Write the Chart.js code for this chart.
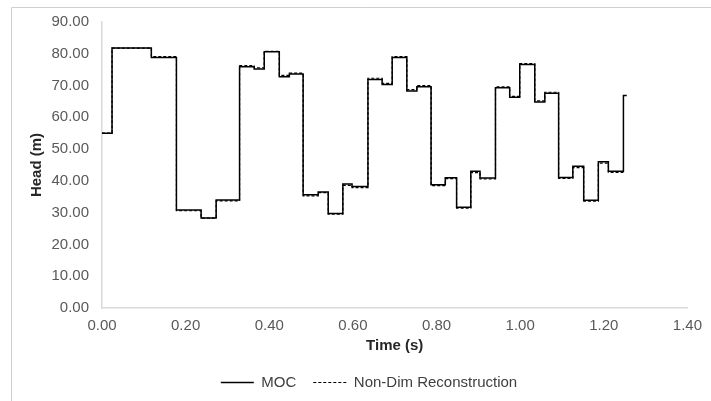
<!DOCTYPE html>
<html>
<head>
<meta charset="utf-8">
<script src="https://cdn.jsdelivr.net/npm/chart.js@4/dist/chart.umd.min.js"></script>
<style>
  html, body { margin: 0; padding: 0; background: #fff; }
  #wrap { width: 711px; height: 401px; position: relative; }
</style>
</head>
<body>
<div id="wrap"><canvas id="headChart"></canvas></div>
<script>
// times (s) at which the head changes, and the head (m) from that time on
const stepTimes = [0.000, 0.024, 0.118, 0.178, 0.237, 0.273, 0.329, 0.364, 0.388, 0.424,
                   0.448, 0.481, 0.517, 0.541, 0.576, 0.598, 0.636, 0.670, 0.694, 0.729,
                   0.753, 0.787, 0.821, 0.848, 0.882, 0.904, 0.941, 0.975, 0.999, 1.035,
                   1.059, 1.092, 1.126, 1.152, 1.187, 1.211, 1.247, 1.255];

const mocHead = [55.0, 81.8, 78.8, 30.8, 28.3, 34.0, 75.9, 75.2, 80.6, 72.8,
                 73.6, 35.6, 36.5, 29.7, 39.0, 38.2, 71.9, 70.3, 78.8, 68.3,
                 69.6, 38.8, 41.0, 31.7, 43.0, 40.9, 69.3, 66.3, 76.6, 64.8,
                 67.6, 41.1, 44.6, 33.9, 46.0, 43.0, 66.9, 66.9];

// reconstruction stops before the last jump
const reconHead = [55.0, 81.8, 79.1, 30.6, 28.3, 33.7, 76.3, 75.6, 80.8, 73.2,
                   73.9, 35.3, 36.3, 29.5, 38.6, 37.9, 72.3, 70.7, 79.1, 68.7,
                   70.0, 38.5, 40.7, 31.4, 42.6, 40.6, 69.6, 66.6, 76.9, 65.2,
                   67.9, 40.8, 44.2, 33.6, 45.6, 42.7, 42.7];

const seriesNames = ['MOC', 'Non-Dim Reconstruction'];

const xTickRange = { min: 0, max: 1.4, step: 0.2 };
const yTickRange = { min: 0, max: 90, step: 10 };

function toPoints(values) {
    return values.map((v, i) => ({ x: stepTimes[i], y: v }));
}

const FONT = "'Liberation Sans', Arial, sans-serif";

// thin frame on the top and left edges, like the cropped original
const framePlugin = {
    id: 'frame',
    beforeDraw(chart) {
        const ctx = chart.ctx;
        ctx.save();
        ctx.strokeStyle = '#cfcfcf';
        ctx.lineWidth = 1;
        ctx.beginPath();
        ctx.moveTo(11.5, chart.height);
        ctx.lineTo(11.5, 7.5);
        ctx.lineTo(chart.width, 7.5);
        ctx.stroke();
        ctx.restore();
    },
    afterLayout(chart) {
        // the legend sits a bit right of the canvas centre
        chart.legend.left += 10;
        chart.legend.right += 10;
    }
};

new Chart(document.getElementById('headChart'), {
    type: 'line',
    data: {
        datasets: [
            {
                label: seriesNames[0],
                data: toPoints(mocHead),
                borderColor: '#000000',
                borderWidth: 1.5,
                stepped: 'before',
                pointRadius: 0,
                fill: false,
                order: 2
            },
            {
                label: seriesNames[1],
                data: toPoints(reconHead),
                borderColor: '#000000',
                borderWidth: 1.2,
                borderDash: [3, 2],
                stepped: 'before',
                pointRadius: 0,
                fill: false,
                order: 1
            }
        ]
    },
    options: {
        responsive: true,
        maintainAspectRatio: false,
        animation: false,
        layout: { padding: { left: 28, right: 21, top: 22, bottom: 1 } },
        scales: {
            x: {
                type: 'linear',
                min: xTickRange.min,
                max: xTickRange.max,
                grid: { display: false, drawTicks: false },
                border: { display: true, color: '#d9d9d9', width: 1.5 },
                ticks: {
                    stepSize: xTickRange.step,
                    padding: 9,
                    color: '#595959',
                    font: { family: FONT, size: 15 },
                    maxRotation: 0,
                    callback: (v) => Number(v).toFixed(2)
                },
                title: {
                    display: true,
                    text: 'Time (s)',
                    color: '#262626',
                    font: { family: FONT, size: 15, weight: 'bold' },
                    padding: { top: 2, bottom: 3 }
                },
                afterFit(scale) { scale.height = 50; }
            },
            y: {
                min: yTickRange.min,
                max: yTickRange.max,
                grid: { display: false, drawTicks: false },
                border: { display: true, color: '#d9d9d9', width: 1.5 },
                ticks: {
                    stepSize: yTickRange.step,
                    padding: 13,
                    color: '#595959',
                    font: { family: FONT, size: 15 },
                    callback: (v) => Number(v).toFixed(2)
                },
                title: {
                    display: true,
                    text: 'Head (m)',
                    color: '#262626',
                    font: { family: FONT, size: 15, weight: 'bold' },
                    padding: { top: 0, bottom: 2 }
                },
                afterFit(scale) { scale.width = 74; }
            }
        },
        plugins: {
            legend: {
                position: 'bottom',
                labels: {
                    usePointStyle: true,
                    pointStyle: 'line',
                    pointStyleWidth: 33,
                    boxHeight: 1,
                    padding: 17,
                    color: '#404040',
                    font: { family: FONT, size: 15 },
                    generateLabels(chart) {
                        const items = Chart.defaults.plugins.legend.labels.generateLabels(chart);
                        items.forEach((item) => {
                            const ds = chart.data.datasets[item.datasetIndex];
                            item.lineDash = ds.borderDash || [];
                            item.lineWidth = ds.borderWidth;
                        });
                        return items.sort((a, b) => a.datasetIndex - b.datasetIndex);
                    }
                }
            },
            tooltip: { enabled: false }
        }
    },
    plugins: [framePlugin]
});
</script>
</body>
</html>
